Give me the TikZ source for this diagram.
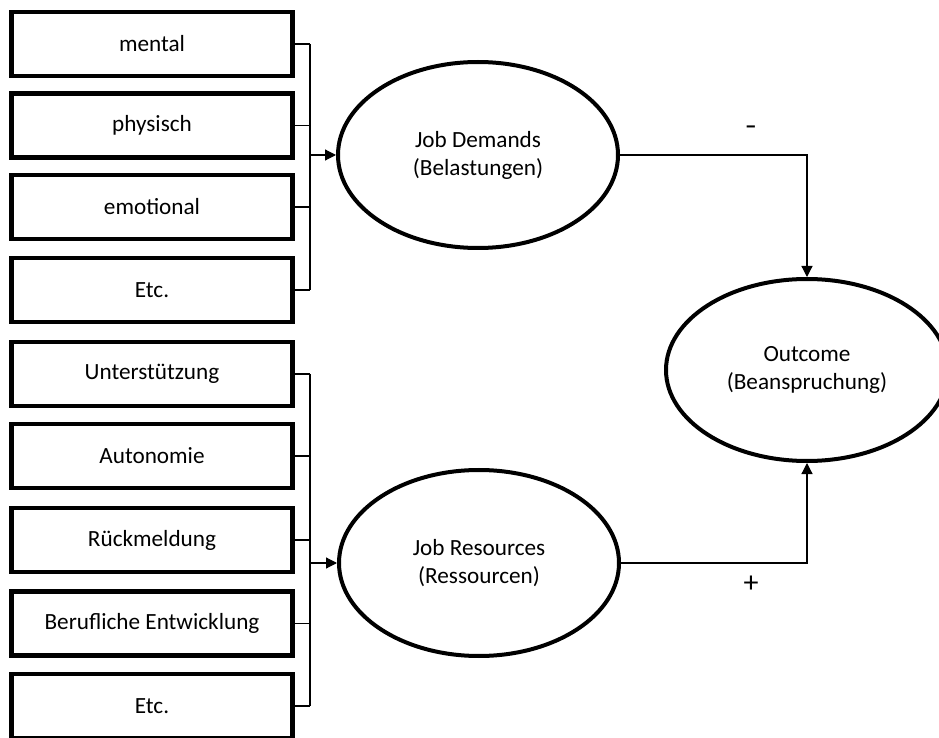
\documentclass[tikz,border=0pt]{standalone}
\usepackage{fontspec}
\setmainfont{Carlito}
\usetikzlibrary{shapes.geometric,arrows.meta}
\begin{document}
\begin{tikzpicture}[x=0.5pt,y=-0.5pt,
  txt/.style={font=\fontsize{11.6}{14}\selectfont},
  box/.style={txt,draw,line width=2.25pt,minimum width=140.5pt,minimum height=32pt,inner sep=0pt},
  oval/.style={txt,draw,ellipse,line width=2pt,minimum width=140pt,minimum height=93pt,inner sep=0pt,align=center},
  conn/.style={line width=0.6pt},
  arr/.style={conn,-{Triangle[length=5.5pt,width=5.5pt]}}]
\useasboundingbox (0,0) rectangle (939,738);
% upper group
\node[box] (b1) at (152,44) {mental};
\node[box] (b2) at (152,125.5) {physisch};
\node[box] (b3) at (152,207) {emotional};
\node[box] (b4) at (152,290) {Etc.};
% lower group
\node[box] (c1) at (152,374) {Unterstützung};
\node[box] (c2) at (152,456) {Autonomie};
\node[box] (c3) at (152,540) {Rückmeldung};
\node[box] (c4) at (152,623.5) {Berufliche Entwicklung};
\node[box] (c5) at (152,706) {Etc.};
% ellipses
\node[oval] (jd) at (478,155) {Job Demands\\(Belastungen)};
\node[oval] (jr) at (479,563) {Job Resources\\(Ressourcen)};
\node[oval,minimum width=141pt,minimum height=91pt] (out) at (807,370) {Outcome\\(Beanspruchung)};
% bus coordinate
\coordinate (bx) at (310,0);
% upper connectors
\foreach \n in {b1,b2,b3,b4} \draw[conn] (\n.east) -- (\n.east -| bx);
\draw[conn] (b1.east -| bx) -- (b4.east -| bx);
\draw[arr] (jd.west -| bx) -- (jd.west);
% lower connectors
\foreach \n in {c1,c2,c3,c4,c5} \draw[conn] (\n.east) -- (\n.east -| bx);
\draw[conn] (c1.east -| bx) -- (c5.east -| bx);
\draw[arr] (jr.west -| bx) -- (jr.west);
% to outcome
\draw[arr] (jd.east) -| (out.north);
\draw[arr] (jr.east) -| (out.south);
\node[txt,font=\fontsize{11.6}{14}\selectfont\bfseries] (minus) at (751,130) {–};
\node[txt,font=\fontsize{15}{18}\selectfont] (plus) at (751,584) {+};
\end{tikzpicture}
\end{document}
